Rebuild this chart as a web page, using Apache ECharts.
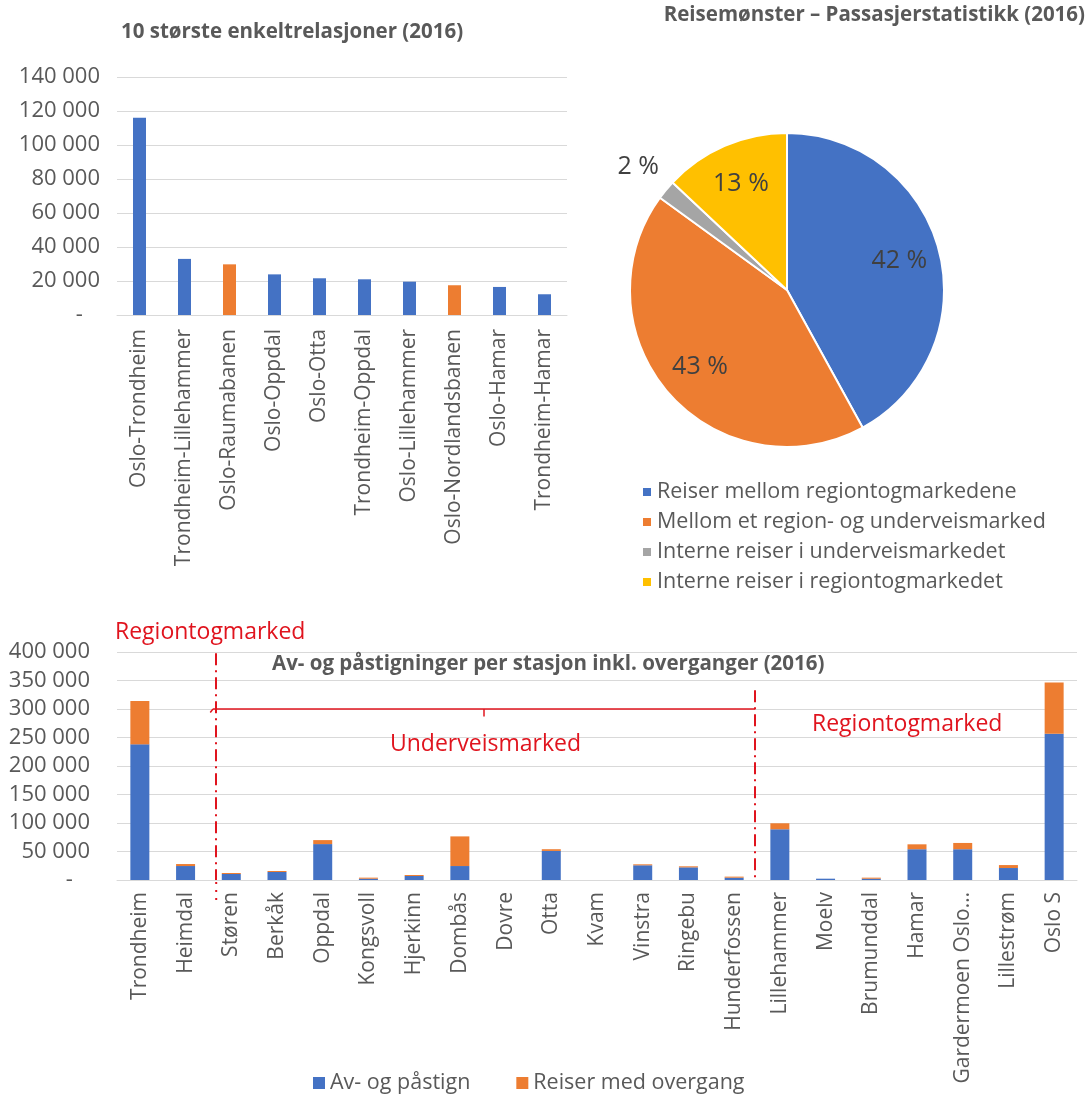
<!DOCTYPE html>
<html>
<head>
<meta charset="utf-8">
<script src="https://cdn.jsdelivr.net/npm/echarts@6/dist/echarts.min.js"></script>
<style>
  html, body { margin: 0; padding: 0; background: #fff; }
  #chart { width: 1088px; height: 1097px; }
</style>
</head>
<body>
<div id="chart"></div>
<script>
// top bars: 10 largest single relations
const relations = ['Oslo-Trondheim', 'Trondheim-Lillehammer', 'Oslo-Raumabanen', 'Oslo-Oppdal', 'Oslo-Otta',
  'Trondheim-Oppdal', 'Oslo-Lillehammer', 'Oslo-Nordlandsbanen', 'Oslo-Hamar', 'Trondheim-Hamar']
const relationValues = [116000, 33000, 29800, 23900, 21600, 21000, 19600, 17500, 16500, 12200]
const orangeRelations = ['Oslo-Raumabanen', 'Oslo-Nordlandsbanen']

// pie: travel pattern
const pieNames = ['Reiser mellom regiontogmarkedene', 'Mellom et region- og underveismarked',
  'Interne reiser i underveismarkedet', 'Interne reiser i regiontogmarkedet']
const pieValues = [42, 43, 2, 13]

// bottom stacked bars per station
const stations = ['Trondheim', 'Heimdal', 'Støren', 'Berkåk', 'Oppdal', 'Kongsvoll', 'Hjerkinn', 'Dombås', 'Dovre',
  'Otta', 'Kvam', 'Vinstra', 'Ringebu', 'Hunderfossen', 'Lillehammer', 'Moelv', 'Brumunddal', 'Hamar',
  'Gardermoen Oslo…', 'Lillestrøm', 'Oslo S']
const boardings = [238000, 24500, 10500, 14000, 63000, 2300, 7000, 24500, 0, 51000, 0, 25800, 22200, 4100,
  89000, 2300, 2300, 54000, 54000, 21000, 256500]
const transfers = [76000, 3500, 1800, 1800, 7000, 1800, 1800, 52000, 0, 3000, 0, 1700, 1800, 1800,
  10500, 0, 1800, 8600, 11000, 5200, 90000]
const yTicksTop = [0, 140000, 20000]
const yTicksBottom = [0, 400000, 50000]

const BLUE = '#4472C4'
const ORANGE = '#ED7D31'
const RED = '#e0141e'
const TXT = '#595959'
const FONT = '"Open Sans", "Noto Sans", sans-serif'

const fmt = (v) => {
  if (v === 0) return '-   '
  return String(v).replace(/\B(?=(\d{3})+(?!\d))/g, ' ')
}

const titleStyle = { fontSize: 20.5, fontWeight: 'bold', color: TXT, fontFamily: FONT }
const redStyle = { fontSize: 23, fontWeight: 'normal', color: RED, fontFamily: FONT }

const chart = echarts.init(document.getElementById('chart'))

const option = {
  backgroundColor: '#fff',
  animation: false,
  textStyle: { fontFamily: FONT },
  title: [
    { text: '10 største enkeltrelasjoner (2016)', left: 121, top: 22, padding: 0, textStyle: titleStyle },
    { text: 'Reisemønster – Passasjerstatistikk (2016)', right: 3, top: 5, padding: 0, textStyle: titleStyle },
    { text: 'Av- og påstigninger per stasjon inkl. overganger (2016)', left: 272, top: 654, padding: 0, textStyle: titleStyle },
    { text: 'Regiontogmarked', left: 115, top: 621, padding: 0, textStyle: redStyle },
    { text: 'Underveismarked', left: 390, top: 733, padding: 0, textStyle: redStyle },
    { text: 'Regiontogmarked', left: 812, top: 713, padding: 0, textStyle: redStyle },
  ],
  legend: [
    {
      data: pieNames,
      orient: 'vertical',
      left: 636, top: 476,
      itemWidth: 10, itemHeight: 10, itemGap: 8,
      icon: 'rect',
      textStyle: { fontSize: 21.5, lineHeight: 22, color: TXT, fontFamily: FONT },
    },
    {
      data: ['Av- og påstign', 'Reiser med overgang'],
      left: 313, top: 1072, padding: 0,
      itemWidth: 12, itemHeight: 12, itemGap: 46,
      icon: 'rect',
      textStyle: { fontSize: 21.5, lineHeight: 22, color: TXT, fontFamily: FONT },
    },
  ],
  grid: [
    { left: 117, right: 521, top: 77, bottom: 782 },
    { left: 117, right: 11, top: 652, bottom: 217 },
  ],
  xAxis: [
    {
      type: 'category', gridIndex: 0, data: relations,
      axisTick: { show: false },
      axisLine: { lineStyle: { color: '#d9d9d9' } },
      axisLabel: { rotate: 90, fontSize: 21, color: TXT, margin: 14, interval: 0 },
    },
    {
      type: 'category', gridIndex: 1, data: stations,
      axisTick: { show: false },
      axisLine: { lineStyle: { color: '#d9d9d9' } },
      axisLabel: { rotate: 90, fontSize: 21, color: TXT, margin: 12, interval: 0 },
    },
    // hidden value axis, used to place the market boundaries between stations
    { type: 'value', gridIndex: 1, min: 0, max: stations.length, show: false },
  ],
  yAxis: [
    {
      type: 'value', gridIndex: 0, min: yTicksTop[0], max: yTicksTop[1], interval: yTicksTop[2],
      axisLine: { show: false }, axisTick: { show: false },
      splitLine: { lineStyle: { color: '#d9d9d9' } },
      axisLabel: { fontSize: 22, color: TXT, margin: 17, formatter: fmt },
    },
    {
      type: 'value', gridIndex: 1, min: yTicksBottom[0], max: yTicksBottom[1], interval: yTicksBottom[2],
      axisLine: { show: false }, axisTick: { show: false },
      splitLine: { lineStyle: { color: '#d9d9d9' } },
      axisLabel: { fontSize: 22, color: TXT, margin: 27, formatter: fmt },
    },
  ],
  series: [
    {
      type: 'bar', xAxisIndex: 0, yAxisIndex: 0, barWidth: 13,
      data: relations.map((r, i) => ({
        value: relationValues[i],
        itemStyle: { color: orangeRelations.includes(r) ? ORANGE : BLUE },
      })),
    },
    {
      name: 'Av- og påstign', type: 'bar', stack: 'st', xAxisIndex: 1, yAxisIndex: 1,
      barWidth: 19, itemStyle: { color: BLUE }, data: boardings,
    },
    {
      name: 'Reiser med overgang', type: 'bar', stack: 'st', xAxisIndex: 1, yAxisIndex: 1,
      barWidth: 19, itemStyle: { color: ORANGE }, data: transfers,
    },
    {
      // market boundaries and bracket
      type: 'scatter', xAxisIndex: 2, yAxisIndex: 1, data: [[0, 0]], symbolSize: 0, silent: true,
      markLine: {
        symbol: 'none', silent: true, animation: false,
        label: { show: false },
        lineStyle: { color: RED, width: 2, type: [12, 5, 2, 5] },
        data: [
          [{ coord: [2.17, 398000] }, { coord: [2.17, 0] }],
          [{ coord: [13.96, 333000] }, { coord: [13.96, 2000] }],
          [{ coord: [2.1, 300000], lineStyle: { type: 'solid', width: 1.5 } }, { coord: [13.96, 300000] }],
          [{ coord: [8.03, 300000], lineStyle: { type: 'solid', width: 1.5 } }, { coord: [8.03, 287000] }],
          [{ coord: [2.1, 300000], lineStyle: { type: 'solid', width: 1.5 } }, { coord: [2.04, 294000] }],
        ],
      },
    },
    {
      type: 'pie', center: [787, 290], radius: 157,
      startAngle: 90, clockwise: true,
      avoidLabelOverlap: false,
      itemStyle: { borderColor: '#fff', borderWidth: 2 },
      label: { show: false }, labelLine: { show: false },
      color: [BLUE, ORANGE, '#A5A5A5', '#FFC000'],
      data: pieNames.map((n, i) => ({ name: n, value: pieValues[i] })),
    },
    {
      // label layer: same slices, transparent, so inside labels sit further out
      type: 'pie', center: [787, 290], radius: [69, 157],
      startAngle: 90, clockwise: true, silent: true,
      avoidLabelOverlap: false,
      itemStyle: { color: 'rgba(0,0,0,0)', borderWidth: 0 },
      label: { show: true, position: 'inside', formatter: '{c} %', fontSize: 25, color: '#404040', fontFamily: FONT },
      labelLine: { show: false },
      data: pieNames.map((n, i) => ({ name: n, value: pieValues[i], label: { show: pieValues[i] >= 5 } })),
    },
    {
      // label layer for the thin slice, placed just outside the pie
      type: 'pie', center: [787, 290], radius: [180, 200],
      startAngle: 90, clockwise: true, silent: true,
      avoidLabelOverlap: false,
      itemStyle: { color: 'rgba(0,0,0,0)', borderWidth: 0 },
      label: { show: true, position: 'inside', formatter: '{c} %', fontSize: 25, color: '#404040', fontFamily: FONT },
      labelLine: { show: false },
      data: pieNames.map((n, i) => ({ name: n, value: pieValues[i], label: { show: pieValues[i] < 5 } })),
    },
  ],
}

chart.setOption(option)

// the left boundary line runs a bit past the axis into the station labels
const p = chart.convertToPixel({ xAxisIndex: 2, yAxisIndex: 1 }, [2.17, 0])
chart.setOption({
  graphic: [{
    type: 'line', silent: true,
    shape: { x1: p[0], y1: p[1] + 2, x2: p[0], y2: p[1] + 20 },
    style: { stroke: RED, lineWidth: 2, lineDash: [2, 6] },
  }],
})

window.addEventListener('resize', () => chart.resize())
</script>
</body>
</html>
